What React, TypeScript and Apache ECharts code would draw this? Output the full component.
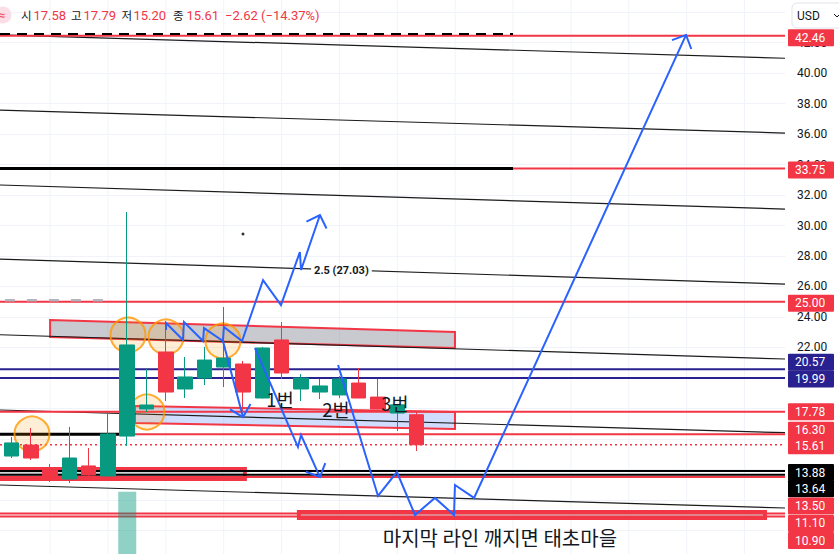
import React, { useEffect, useRef } from "react";
import * as echarts from "echarts";

const FONT = "Roboto, 'Noto Sans CJK KR', 'Noto Sans', sans-serif";
const KFONT = "'Noto Sans CJK KR', Roboto, sans-serif";
const UP = "#089981";
const DOWN = "#f23645";
const NAVY = "#2a2190";
const BLUE = "#2962ff";

// ---------- candles (index, OHLC) ----------
const candleIdx = [0, 1, 2, 3, 4, 5, 6, 7, 8, 9, 10, 11, 12, 13, 14, 15, 16, 17, 18, 19, 20, 21];
const openV = [14.87, 15.59, 13.95, 13.36, 14.22, 13.56, 16.18, 17.96, 21.7, 19.27, 19.99, 20.71, 20.91, 18.68, 22.49, 19.27, 19.07, 18.88, 19.66, 18.74, 17.69, 17.58];
const closeV = [15.73, 14.74, 13.49, 14.74, 13.63, 16.32, 22.16, 18.22, 19.07, 20.06, 21.17, 21.3, 19.07, 21.96, 20.32, 19.99, 19.47, 19.93, 18.68, 17.96, 18.23, 15.61];
const lowV = [14.74, 14.61, 13.17, 13.1, 13.49, 13.52, 15.53, 17.76, 18.48, 18.68, 19.53, 19.4, 17.83, 18.65, 19.93, 18.48, 18.61, 18.68, 18.66, 17.94, 16.51, 15.2];
const highV = [16.12, 16.71, 14.35, 16.78, 15.4, 17.76, 30.89, 20.58, 23.14, 21.37, 22.03, 24.65, 21.11, 22.03, 23.67, 20.25, 19.93, 20.12, 20.65, 19.93, 18.29, 17.79];
const volumeIdx = [6];
const volumeV = [11.9];

// ---------- axes ----------
const X_MIN = -0.5962;
const X_MAX = 40.099;
const Y_MIN = 8;
const Y_MAX = 46;
const Y_STEP = 2;
const gridCols = [2, 5, 8, 11, 14, 17, 20, 23, 26, 29, 32, 35, 38];

// ---------- price levels / right-axis tags ----------
const tagPrices = [42.46, 33.75, 25.0, 20.57, 19.99, 17.78, 16.3, 15.61, 13.88, 13.64, 13.5, 11.1, 10.9];
const tagKinds = ["red", "red", "red", "navy", "navy", "red", "red", "red", "black", "black", "red", "red", "red"];
const tagNudge = [2, 1.5, 1.5, -7, 1, 0, -4, 1, 1.5, 14, 29, 10, 24];

// horizontal segments
const hPrice = [42.46, 42.57, 33.75, 33.75, 25.0, 25.1, 20.57, 19.99, 17.78, 16.3, 16.3, 15.61, 13.88, 13.64, 13.5, 11.1, 10.9];
const hFrom = [X_MIN, X_MIN, X_MIN, 26.0, X_MIN, -0.34, X_MIN, X_MIN, X_MIN, X_MIN, 6.0, X_MIN, X_MIN, X_MIN, X_MIN, X_MIN, X_MIN];
const hTo = [X_MAX, 26.0, 26.0, X_MAX, X_MAX, 4.85, X_MAX, X_MAX, X_MAX, 6.0, X_MAX, X_MAX, X_MAX, X_MAX, X_MAX, X_MAX, X_MAX];
const hKind = ["red", "dashBlack", "black3", "red", "red", "dashGrey", "navy", "navy", "red", "black3", "red", "dotRed", "black2", "black2", "red", "red", "red"];

// parallel channel lines (price at left edge, price at right edge)
const diagFrom = [42.51, 37.58, 32.66, 27.8, 22.83, 17.89, 12.97];
const diagTo = [40.98, 36.07, 31.08, 26.16, 21.24, 16.4, 11.46];

// boxes (index, price corners)
const greyBox = [[2.0, 23.8], [22.99, 23.01], [22.99, 21.96], [2.0, 22.68]];
const blueBox = [[6.4, 18.15], [22.99, 17.76], [22.99, 16.64], [6.4, 17.04]];
const leftBand = [[-1, 14.02], [12.1, 14.02], [12.1, 13.36], [-1, 13.36]];
const bottomBand = [[14.9, 11.2], [39.06, 11.2], [39.06, 10.8], [14.9, 10.8]];

// circles
const circleX = [6.04, 8.01, 10.96, 7.02, 1.06];
const circleP = [22.81, 22.68, 22.42, 17.76, 16.32];

// blue arrows
const pathZigzagUp = [[8.01, 23.14], [8.01, 23.6], [8.89, 22.49], [8.94, 23.67], [9.93, 22.42], [9.98, 23.27], [10.96, 22.42], [11.01, 23.34], [11.95, 22.42], [13.04, 26.42], [13.97, 24.78], [14.95, 28.26], [15.01, 27.08], [15.99, 30.69]];
const pathDropA = [[10.96, 22.42], [12.0, 17.43]];
const pathDropB = [[12.62, 21.96], [14.85, 15.46], [15.01, 16.25], [15.99, 13.49]];
const pathBigV = [[16.93, 20.85], [19.0, 12.25], [19.98, 13.82], [20.92, 11.0], [21.95, 12.12], [22.94, 11.0], [22.99, 12.97], [23.98, 12.12], [34.97, 42.51]];
const bluePaths = [pathZigzagUp, pathDropA, pathDropB, pathBigV];

// text notes
const noteText = ["1번", "2번", "3번", "2.5 (27.03)", "마지막 라인 깨지면 태초마을"];
const noteX = [13.92, 16.82, 19.88, 15.53, 25.32];
const noteP = [18.61, 17.96, 18.35, 27.05, 9.49];
const dotX = [12.0];
const dotP = [29.44];

// header legend labels
const ohlcLabels = ["시", "고", "저", "종"];

const STYLES: Record<string, { c: string; w: number; d?: number[] }> = {
  red: { c: DOWN, w: 2 },
  navy: { c: NAVY, w: 2 },
  black2: { c: "#000000", w: 2 },
  black3: { c: "#000000", w: 3 },
  dashBlack: { c: "#000000", w: 2, d: [10, 7] },
  dashGrey: { c: "#b2b5be", w: 2.5, d: [10, 12] },
  dotRed: { c: DOWN, w: 1.5, d: [2, 3] },
};
const TAG_COLORS: Record<string, string> = { red: DOWN, navy: NAVY, black: "#000000" };
const NOTE_SIZE = [18.5, 18.5, 18.5, 11, 20];
const HEADER_LABEL_X = [21, 71, 121.5, 173];
const HEADER_VALUE_X = [33.5, 83.5, 133.5, 186.5];
const HEADER_CHANGE_X = 225;

function fmtSigned(v: number) {
  const s = Math.abs(v).toFixed(2);
  return (v < 0 ? "\u2212" : "+") + s;
}

export default function App() {
  const ref = useRef<HTMLDivElement>(null);

  useEffect(() => {
    const el = ref.current;
    if (!el) return;
    const chart = echarts.init(el, null, { renderer: "svg" });

    const n = candleIdx.length;
    const last = n - 1;
    const chg = closeV[last] - closeV[last - 1];
    const pct = (chg / closeV[last - 1]) * 100;
    const ohlcVals = [openV[last], highV[last], lowV[last], closeV[last]];

    const headerEls: any[] = [];
    ohlcLabels.forEach((lab, k) => {
      headerEls.push({
        type: "text", z: 21, x: HEADER_LABEL_X[k], y: 15,
        style: { text: lab, fill: "#131722", fontSize: 11.5, fontFamily: KFONT, verticalAlign: "middle" },
      });
      headerEls.push({
        type: "text", z: 21, x: HEADER_VALUE_X[k], y: 15,
        style: { text: ohlcVals[k].toFixed(2), fill: DOWN, fontSize: 13, fontFamily: FONT, verticalAlign: "middle" },
      });
    });
    headerEls.push({
      type: "text", z: 21, x: HEADER_CHANGE_X, y: 15,
      style: { text: `${fmtSigned(chg)} (${fmtSigned(pct)}%)`, fill: DOWN, fontSize: 13, fontFamily: FONT, verticalAlign: "middle" },
    });

    const option: any = {
      animation: false,
      backgroundColor: "#ffffff",
      grid: { left: 0, right: 54, top: -18.24, bottom: -6.7, outerBoundsMode: "none", containLabel: false },
      xAxis: { type: "value", min: X_MIN, max: X_MAX, show: false },
      yAxis: [
        {
          type: "value",
          position: "right",
          min: Y_MIN,
          max: Y_MAX,
          interval: Y_STEP,
          axisLine: { show: false },
          axisTick: { show: false },
          splitLine: { show: true, lineStyle: { color: "#f0f3fa", width: 1 } },
          axisLabel: {
            margin: 12,
            color: "#131722",
            fontSize: 12,
            fontFamily: FONT,
            formatter: (v: number) => (v >= 21 && v <= 43 ? v.toFixed(2) : ""),
          },
        },
        { type: "value", min: 0, max: 100, show: false },
      ],
      series: [
        {
          type: "custom",
          name: "vgrid",
          z: 0,
          silent: true,
          clip: true,
          data: gridCols.map((v) => [v, Y_MIN]),
          encode: { x: 0, y: 1 },
          renderItem: (_p: any, api: any) => {
            const v = api.value(0);
            const a = api.coord([v, Y_MIN]);
            const b = api.coord([v, Y_MAX]);
            return { type: "line", shape: { x1: a[0], y1: a[1], x2: b[0], y2: b[1] }, style: { stroke: "#f0f3fa", lineWidth: 1 } };
          },
        },
        {
          type: "custom",
          name: "boxes",
          z: 2,
          silent: true,
          clip: true,
          data: [greyBox, blueBox, leftBand, bottomBand].map((b, k) => [b[0][0], b[0][1], k]),
          encode: { x: 0, y: 1 },
          renderItem: (_p: any, api: any) => {
            const k = api.value(2);
            const boxes = [greyBox, blueBox, leftBand, bottomBand];
            const fills = ["rgba(120,123,134,0.4)", "rgba(41,98,255,0.22)", "rgba(120,123,134,0.35)", "rgba(120,123,134,0.35)"];
            const widths = [2, 2, 4, 4];
            return {
              type: "polygon",
              shape: { points: boxes[k].map((pt) => api.coord(pt)) },
              style: { fill: fills[k], stroke: DOWN, lineWidth: widths[k] },
            };
          },
        },
        {
          type: "custom",
          name: "channel",
          z: 3,
          silent: true,
          clip: true,
          data: diagFrom.map((p, k) => [X_MIN, p, k]),
          encode: { x: 0, y: 1 },
          renderItem: (_p: any, api: any) => {
            const k = api.value(2);
            const a = api.coord([X_MIN, diagFrom[k]]);
            const b = api.coord([X_MAX, diagTo[k]]);
            return { type: "line", shape: { x1: a[0], y1: a[1], x2: b[0], y2: b[1] }, style: { stroke: "#1b1b1b", lineWidth: 1.2 } };
          },
        },
        {
          type: "custom",
          name: "levels",
          z: 3,
          silent: true,
          clip: true,
          data: hPrice.map((p, k) => [hFrom[k], p, k]),
          encode: { x: 0, y: 1 },
          renderItem: (_p: any, api: any) => {
            const k = api.value(2);
            const a = api.coord([hFrom[k], hPrice[k]]);
            const b = api.coord([hTo[k], hPrice[k]]);
            const st = STYLES[hKind[k]];
            return {
              type: "line",
              shape: { x1: a[0], y1: a[1], x2: b[0], y2: b[1] },
              style: { stroke: st.c, lineWidth: st.w, lineDash: st.d || null },
            };
          },
        },
        {
          type: "bar",
          name: "volume",
          xAxisIndex: 0,
          yAxisIndex: 1,
          z: 4,
          barWidth: 18,
          silent: true,
          data: volumeIdx.map((x, k) => [x, volumeV[k]]),
          itemStyle: { color: "rgba(8,153,129,0.45)" },
        },
        {
          type: "scatter",
          name: "circles",
          z: 4,
          silent: true,
          symbol: "circle",
          symbolSize: 35,
          data: circleX.map((x, k) => [x, circleP[k]]),
          itemStyle: { color: "rgba(255,152,0,0.2)", borderColor: "#ff9800", borderWidth: 2 },
        },
        {
          type: "candlestick",
          name: "price",
          z: 5,
          silent: true,
          barWidth: 15,
          data: candleIdx.map((i) => [i, openV[i], closeV[i], lowV[i], highV[i]]),
          encode: { x: 0, y: [1, 2, 3, 4] },
          itemStyle: { color: UP, color0: DOWN, borderColor: UP, borderColor0: DOWN, borderWidth: 1 },
        },
        {
          type: "scatter",
          name: "dot",
          z: 5,
          silent: true,
          symbolSize: 3,
          data: dotX.map((x, k) => [x, dotP[k]]),
          itemStyle: { color: "#000000" },
        },
        {
          type: "custom",
          name: "arrows",
          z: 6,
          silent: true,
          clip: true,
          data: bluePaths.map((p, k) => [p[0][0], p[0][1], k]),
          encode: { x: 0, y: 1 },
          renderItem: (_p: any, api: any) => {
            const k = api.value(2);
            const pts = bluePaths[k].map((pt) => api.coord(pt));
            const m = pts.length;
            const tip = pts[m - 1];
            const prev = pts[m - 2];
            const dx = tip[0] - prev[0];
            const dy = tip[1] - prev[1];
            const len = Math.hypot(dx, dy) || 1;
            const bx = -dx / len;
            const by = -dy / len;
            const L = 15;
            const ang = Math.PI / 4;
            const rot = (a: number) => [tip[0] + L * (bx * Math.cos(a) - by * Math.sin(a)), tip[1] + L * (bx * Math.sin(a) + by * Math.cos(a))];
            return {
              type: "group",
              children: [
                { type: "polyline", shape: { points: pts }, style: { stroke: BLUE, lineWidth: 2, fill: "none" } },
                { type: "polyline", shape: { points: [rot(ang), tip, rot(-ang)] }, style: { stroke: BLUE, lineWidth: 2, fill: "none" } },
              ],
            };
          },
        },
        {
          type: "custom",
          name: "notes",
          z: 7,
          silent: true,
          clip: false,
          data: noteX.map((x, k) => [x, noteP[k], k]),
          encode: { x: 0, y: 1 },
          renderItem: (_p: any, api: any) => {
            const k = api.value(2);
            const c = api.coord([noteX[k], noteP[k]]);
            const isFib = k === 3;
            return {
              type: "text",
              x: c[0],
              y: c[1],
              style: {
                text: noteText[k],
                fill: "#131722",
                fontSize: NOTE_SIZE[k],
                fontWeight: isFib ? "bold" : "normal",
                fontFamily: isFib ? FONT : KFONT,
                align: isFib ? "left" : "center",
                verticalAlign: "middle",
                backgroundColor: isFib ? "#ffffff" : undefined,
                padding: isFib ? [1, 3] : 0,
              },
            };
          },
        },
        {
          type: "custom",
          name: "tags",
          z: 8,
          silent: true,
          clip: false,
          data: tagPrices.map((p, k) => [X_MAX, p, k]),
          encode: { x: 0, y: 1 },
          renderItem: (_p: any, api: any) => {
            const k = api.value(2);
            const c = api.coord([X_MAX, tagPrices[k]]);
            const y = c[1] + tagNudge[k];
            const x = c[0] + 3;
            return {
              type: "group",
              children: [
                { type: "rect", shape: { x, y: y - 8.5, width: 46, height: 17, r: 1 }, style: { fill: TAG_COLORS[tagKinds[k]] } },
                {
                  type: "text",
                  x: x + 7,
                  y: y,
                  style: { text: tagPrices[k].toFixed(2), fill: "#ffffff", fontSize: 12, fontFamily: FONT, align: "left", verticalAlign: "middle" },
                },
              ],
            };
          },
        },
      ],
      graphic: [
        { type: "circle", z: 20, shape: { cx: 3, cy: 15, r: 8.5 }, style: { fill: "#fbdde5" } },
        { type: "text", z: 21, x: 2, y: 15, style: { text: "≈", fill: "#f7525f", fontSize: 11, fontWeight: "bold", fontFamily: FONT, align: "center", verticalAlign: "middle" } },
        ...headerEls,
        { type: "rect", z: 21, shape: { x: 792, y: 3, width: 60, height: 25, r: 5 }, style: { fill: "#ffffff", stroke: "#e0e3eb", lineWidth: 1 } },
        { type: "text", z: 22, x: 797, y: 16, style: { text: "USD", fill: "#131722", fontSize: 12, fontFamily: FONT, verticalAlign: "middle" } },
        { type: "polyline", z: 22, shape: { points: [[834, 14], [837, 17], [840, 14]] }, style: { stroke: "#131722", lineWidth: 1, fill: "none" } },
      ],
    };

    chart.setOption(option);
    return () => chart.dispose();
  }, []);

  return (
    <div
      ref={ref}
      style={{ position: "fixed", left: 0, top: 0, width: 839, height: 554, background: "#ffffff" }}
    />
  );
}
